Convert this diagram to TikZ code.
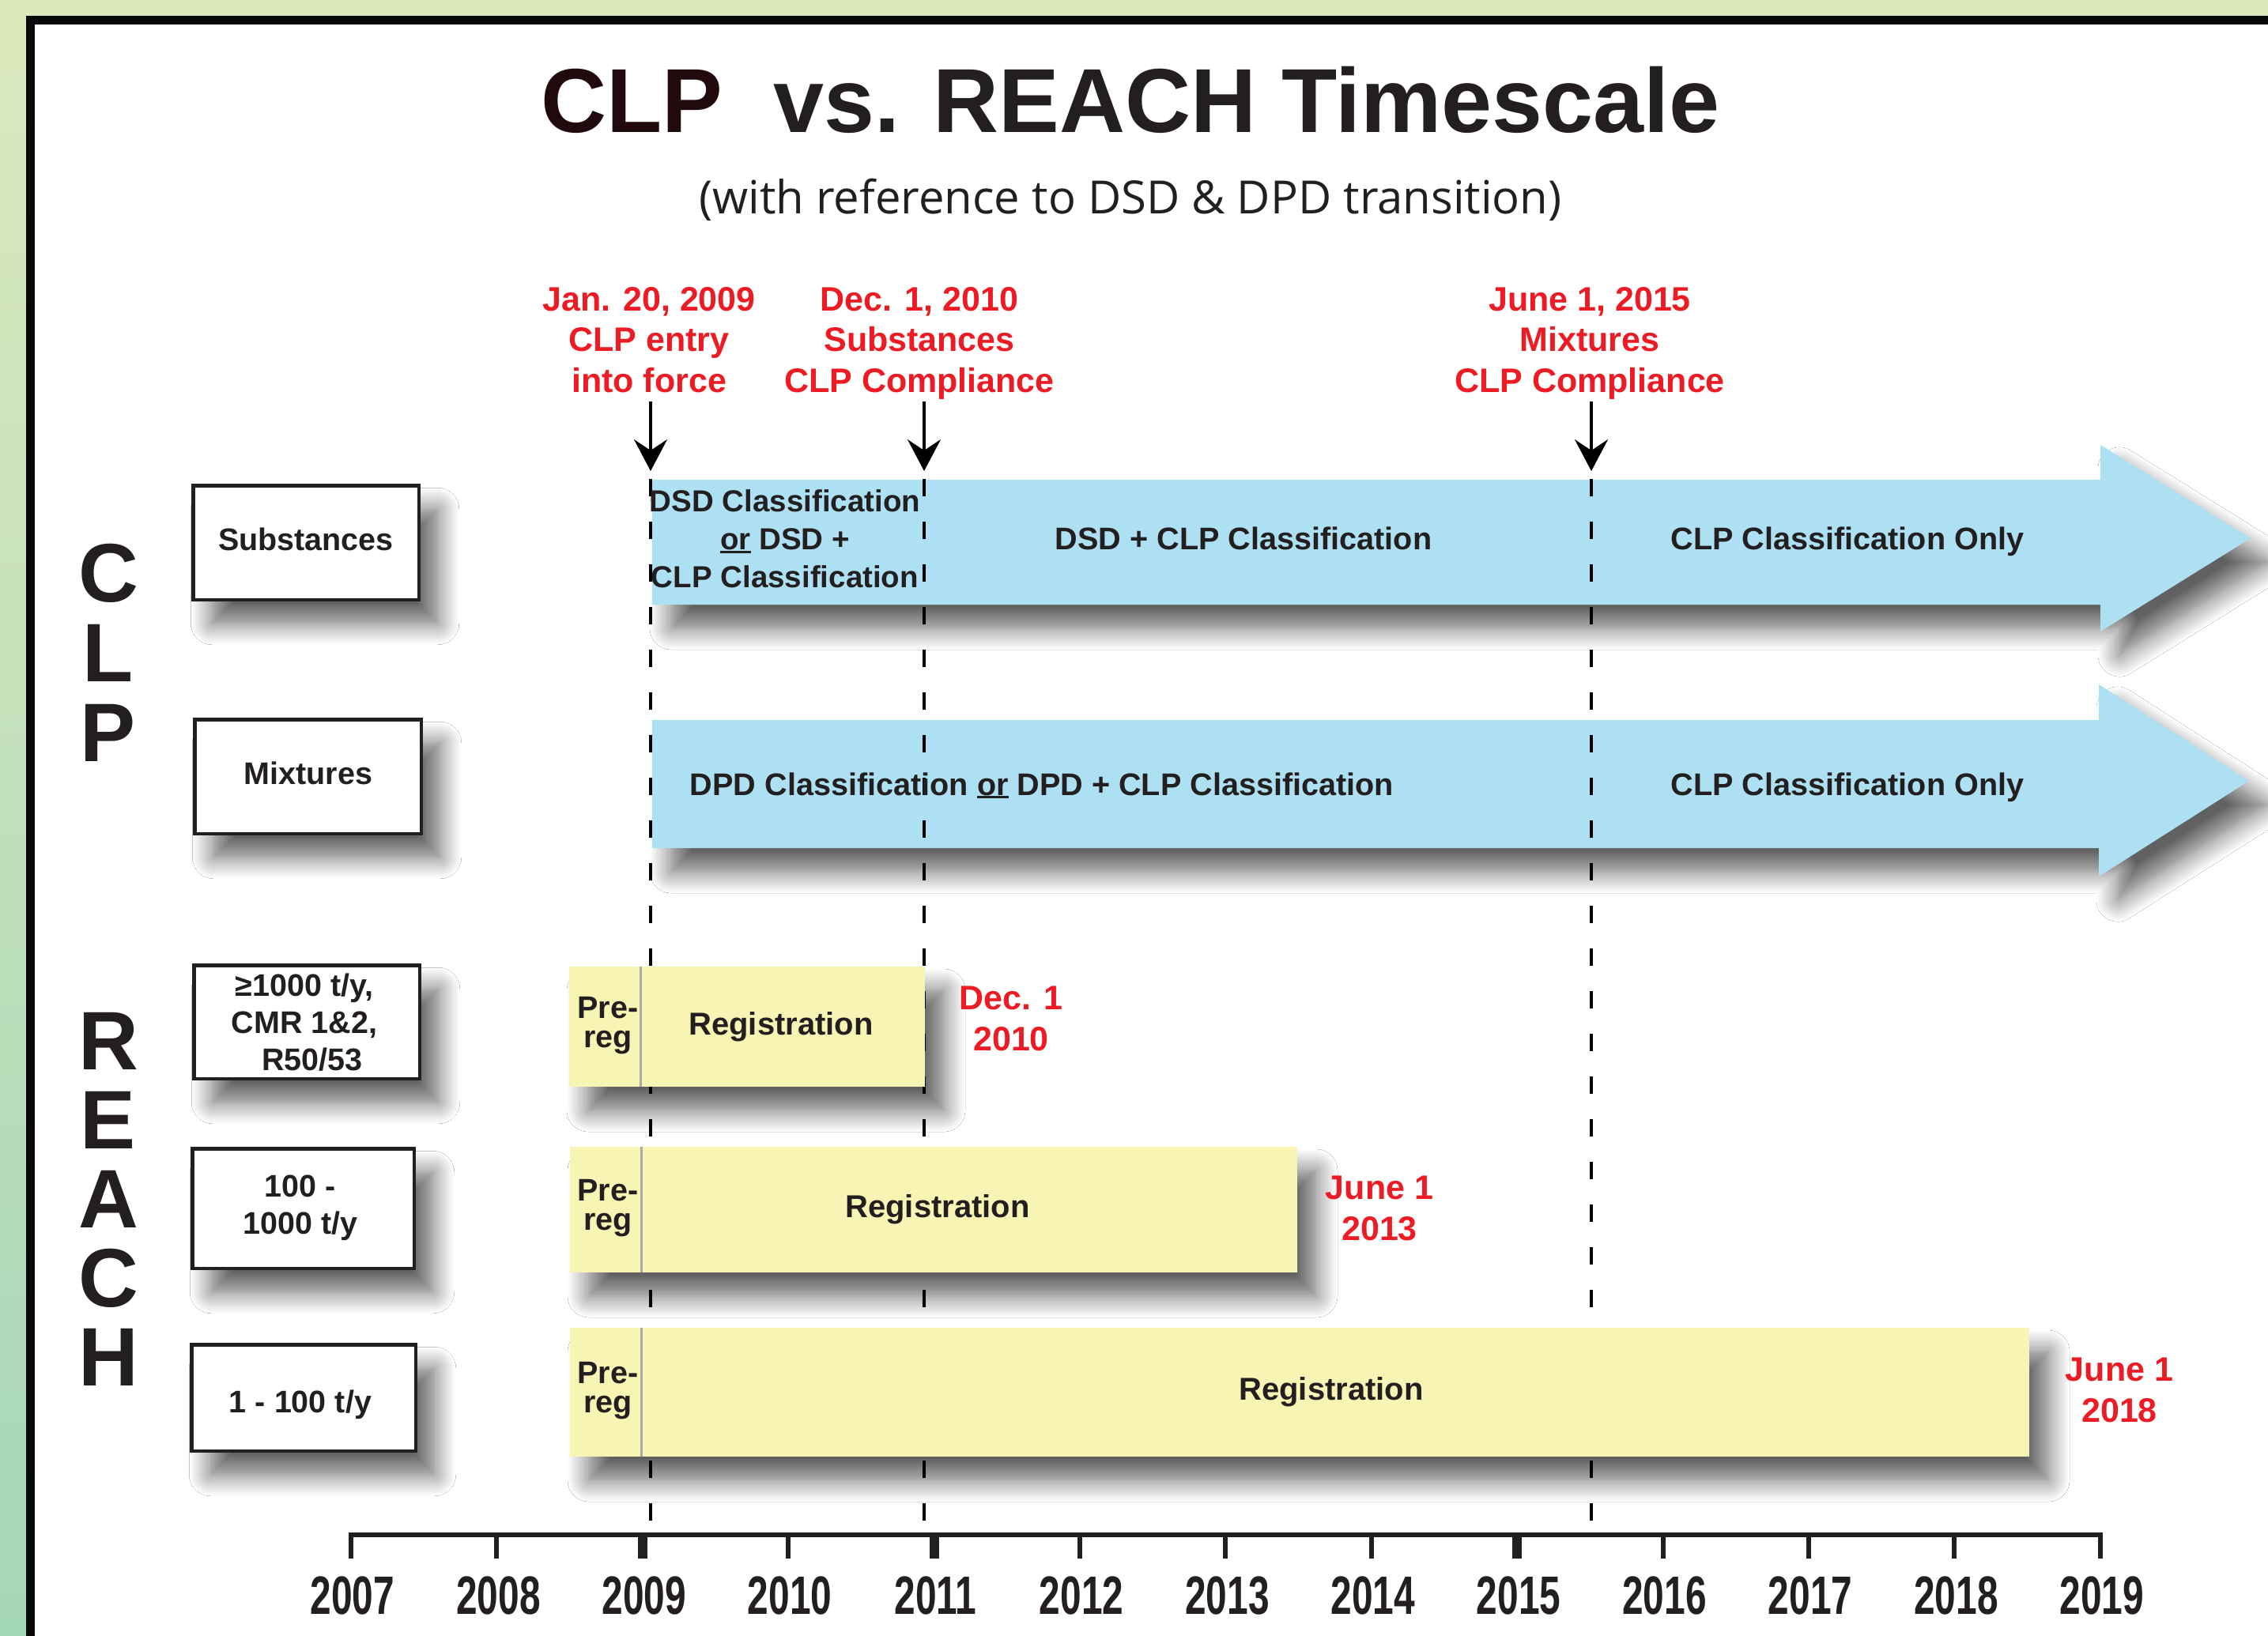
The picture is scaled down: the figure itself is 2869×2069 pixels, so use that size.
\documentclass[tikz,border=0pt]{standalone}
\usepackage{fontspec}
\setmainfont{Liberation Sans}
\newfontfamily\subtitlefont{Open Sans}
\newfontfamily\yearfont{Liberation Sans}[FakeStretch=0.70]
\usetikzlibrary{arrows.meta,shadows.blur}

\definecolor{ink}{RGB}{35,31,32}
\definecolor{clpink}{RGB}{32,10,14}
\definecolor{datered}{RGB}{237,28,36}
\definecolor{phaseblue}{RGB}{172,224,242}
\definecolor{regyellow}{RGB}{248,244,180}
\definecolor{bgtop}{RGB}{220,233,188}
\definecolor{bgbottom}{RGB}{164,214,184}
\definecolor{divider}{RGB}{167,169,172}

\newcommand\fs[2]{\fontsize{#1}{#2}\selectfont}
\newcommand\undr[1]{\setbox0\hbox{#1}\rlap{\rule[-0.11em]{\wd0}{0.075em}}\box0\relax}

\begin{document}
\begin{tikzpicture}[x=1pt,y=-1pt,
  every node/.style={inner sep=0pt, text=ink, font=\bfseries},
  softshadow/.style={blur shadow={shadow xshift=24pt, shadow yshift=-30pt,
      shadow blur radius=27pt, shadow opacity=62, shadow blur steps=12}},
  catbox/.style={draw=ink, line width=4.5pt, fill=white, softshadow},
  cattext/.style={font=\bfseries\fs{39.5}{47}, align=center},
  phase/.style={fill=phaseblue, softshadow},
  phasetext/.style={font=\bfseries\fs{39.6}{48}, anchor=base},
  regbar/.style={fill=regyellow, softshadow},
  regtext/.style={font=\bfseries\fs{40}{48}, anchor=base},
  pretext/.style={font=\bfseries\fs{39.5}{37}, align=center, anchor=north},
  datelabel/.style={font=\bfseries\fs{43}{51.5}, text=datered, align=center, anchor=north},
  pointer/.style={line width=3.5pt, draw=black,
      -{Stealth[length=40pt, width=42pt, inset=14pt]}},
  guide/.style={line width=3.5pt, draw=black, dash pattern=on 22pt off 32pt},
  bigletters/.style={align=center, anchor=north},
  yeartext/.style={font=\yearfont\bfseries\fs{68.4}{70}, anchor=base},
  tick/.style={draw=ink, line cap=butt},
]
\useasboundingbox (0,0) rectangle (2869,2069);

% page background and framed white panel
\shade[top color=bgtop, bottom color=bgbottom] (0,0) rectangle (2869,2069);
\begin{scope}
  \clip (0,0) rectangle (2869,2069);
  \filldraw[fill=white, draw=black!97, line width=11pt] (38.5,25.5) rectangle (2920,2120);
\end{scope}

% heading
\node[anchor=base, font=\bfseries\fs{115}{120}] (title) at (1430,167)
  {\textcolor{clpink}{CLP}\ \ vs. REACH Timescale};
\node[anchor=base, font=\subtitlefont\fs{58}{60}] (subtitle) at (1430,270)
  {(with reference to DSD \& DPD transition)};

% key dates
\node[datelabel] (jan) at (821,363) {Jan. 20, 2009\\CLP entry\\into force};
\node[datelabel] (dec) at (1163,363) {Dec. 1, 2010\\Substances\\CLP Compliance};
\node[datelabel] (jun) at (2011,363) {June 1, 2015\\Mixtures\\CLP Compliance};

\coordinate (janstart) at (823,508);  \coordinate (janmark) at (823,596);
\coordinate (decstart) at (1169,508); \coordinate (decmark) at (1169,596);
\coordinate (junstart) at (2013,508); \coordinate (junmark) at (2013,596);
\coordinate (janaxis) at (823,1939);
\coordinate (decaxis) at (1169,1939);
\coordinate (junaxis) at (2013,1939);

% CLP phases
\path[phase] (825,607) -- (2657,607) -- (2657,563) -- (2847,681) -- (2657,799)
  -- (2657,765) -- (825,765) -- cycle;
\path[phase] (825,911) -- (2655,911) -- (2655,866) -- (2845,988) -- (2655,1109)
  -- (2655,1073) -- (825,1073) -- cycle;

% date guides
\draw[guide] ([yshift=-10pt]janmark) -- (janaxis);
\draw[guide] ([yshift=-10pt]decmark) -- (decaxis);
\draw[guide] ([yshift=-10pt]junmark) -- (junaxis);

\draw[pointer] (janstart) -- (janmark);
\draw[pointer] (decstart) -- (decmark);
\draw[pointer] (junstart) -- (junmark);

\node[font=\bfseries\fs{38.5}{48}, align=center, anchor=north] (subsfirst) at (993,619.3)
  {DSD Classification\\\undr{or} DSD +\\CLP Classification};
\node[phasetext] (subsboth) at (1573,695) {DSD + CLP Classification};
\node[phasetext] (subsonly) at (2337,695) {CLP Classification Only};
\node[phasetext] (mixfirst) at (1318,1006) {DPD Classification \undr{or} DPD + CLP Classification};
\node[phasetext] (mixonly) at (2337,1006) {CLP Classification Only};

% side headings
\node[bigletters, font=\bfseries\fs{105}{101}] (clpword) at (137,688) {C\\L\\P};
\node[bigletters, font=\bfseries\fs{105}{100}] (reachword) at (137,1281) {R\\E\\A\\C\\H};

% category boxes
\node[catbox, minimum width=285.5pt, minimum height=144.5pt] (subs) at (387,686.5) {};
\node[catbox, minimum width=286.5pt, minimum height=144.5pt] (mixt) at (389.5,982.5) {};
\node[catbox, minimum width=285.5pt, minimum height=143.5pt] (tonA) at (388,1293) {};
\node[catbox, minimum width=280.5pt, minimum height=151.5pt] (tonB) at (383.5,1529) {};
\node[catbox, minimum width=283.5pt, minimum height=134.5pt] (tonC) at (384,1768.5) {};

\node[cattext, anchor=base] (substext) at (387,696) {Substances};
\node[cattext, anchor=base] (mixttext) at (390,992) {Mixtures};
\node[cattext, anchor=north] (tonAtext) at (385,1231.6) {≥1000 t/y,\\CMR 1\&2,\\\hspace*{20pt}R50/53};
\node[cattext, anchor=north] (tonBtext) at (380,1486.6) {100 -\\1000 t/y};
\node[cattext, anchor=base] (tonCtext) at (380,1787) {1 - 100 t/y};

% REACH registration bars
\node[regbar, minimum width=450pt, minimum height=152pt] (barA) at (945,1299) {};
\node[regbar, minimum width=920pt, minimum height=159pt] (barB) at (1181,1530.5) {};
\node[regbar, minimum width=1846pt, minimum height=163pt] (barC) at (1644,1761.5) {};
\foreach \b in {barA,barB,barC}
  \draw[divider, line width=3pt] ([xshift=91pt]\b.north west) -- ([xshift=91pt]\b.south west);

\node[pretext] (preA) at (769,1261.5) {Pre-\\reg};
\node[pretext] (preB) at (769,1492.5) {Pre-\\reg};
\node[pretext] (preC) at (769,1723.5) {Pre-\\reg};
\node[regtext] (regA) at (988,1309) {Registration};
\node[regtext] (regB) at (1186,1540) {Registration};
\node[regtext] (regC) at (1684,1771) {Registration};

\node[datelabel] (endA) at (1279,1248) {Dec. 1\\2010};
\node[datelabel] (endB) at (1745,1488) {June 1\\2013};
\node[datelabel] (endC) at (2681,1718) {June 1\\2018};

% time axis
\draw[draw=ink, line width=6pt] (441,1942) -- (2660,1942);
\foreach \yr/\w [count=\i from 0] in {2007/6,2008/6,2009/12,2010/6,2011/12,2012/6,2013/6,
    2014/6,2015/12,2016/6,2017/6,2018/6,2019/6} {
  \draw[tick, line width=\w pt] (444+184.4*\i,1940) -- (444+184.4*\i,1972);
  \node[yeartext] (y\yr) at (446+184.4*\i,2042) {\yr};
}
\end{tikzpicture}
\end{document}
